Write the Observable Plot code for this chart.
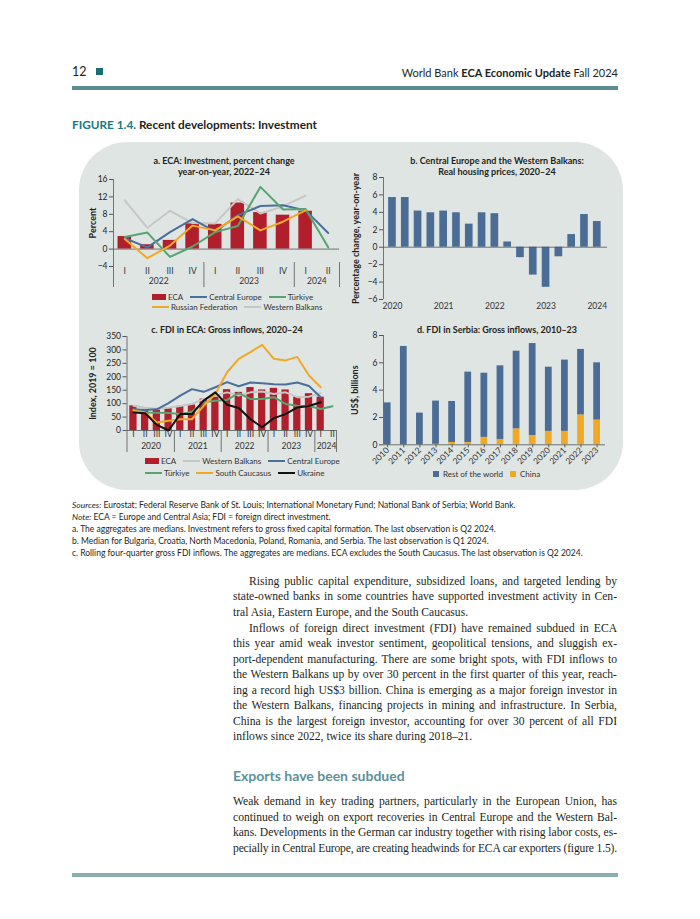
<!DOCTYPE html>
<html><head><meta charset="utf-8">
<script src="https://cdn.jsdelivr.net/npm/d3@7"></script>
<script src="https://cdn.jsdelivr.net/npm/@observablehq/plot@0.6"></script>
<style>
body{margin:0;width:700px;height:919px;position:relative;background:#fff;font-family:Lato,"Open Sans",sans-serif;color:#231f20;overflow:hidden}
.abs{position:absolute}
.ptitle{position:absolute;transform:translateX(-50%);text-align:center;font-weight:700;font-size:9px;line-height:10.5px;white-space:nowrap;color:#231f20}
.leg{position:absolute;display:flex;align-items:center;font-size:8px;color:#333;white-space:nowrap;height:10px}
.leg .it{display:flex;align-items:center;margin-right:7px}
.leg .sw{display:inline-block;margin-right:2px}
.line{position:absolute;white-space:nowrap;font-family:"Liberation Serif",serif;font-size:11.6px;height:15.5px;line-height:15.5px;color:#231f20}
.note{position:absolute;left:72px;white-space:nowrap;font-size:8.5px;line-height:12px;height:12px;color:#231f20}
</style></head><body>
<div id="root"></div>
<script>
// ---------- DATA ----------
// Panel a: ECA investment, percent change y/y, Q1 2022 - Q2 2024
const quartersA = ["I","II","III","IV","I","II","III","IV","I","II"];
const yearsA = ["2022","2023","2024"];
const ecaA = [2.9, 1.0, 2.0, 5.8, 5.7, 10.6, 8.4, 7.8, 8.7, null];
const centralEuropeA = [2.5, 0.4, 3.9, 6.9, 4.0, 7.8, 9.9, 10.1, 8.9, 3.7];
const turkiyeA = [2.8, 3.8, -1.8, 0.6, 3.9, 5.3, 14.3, 9.1, 9.2, 0.4];
const russiaA = [2.3, -2.1, 0.8, 5.4, 4.3, 7.5, 4.3, 6.3, 8.9, null];
const westernBalkansA = [11.2, 4.9, 8.8, 6.0, 5.9, 11.5, 8.2, 9.8, 12.3, null];
const ticksA = [-4, 0, 4, 8, 12, 16];

// Panel b: real housing prices, Q1 2020 - Q1 2024
const yearsB = ["2020","2021","2022","2023","2024"];
const housingB = [5.7, 5.7, 4.15, 3.95, 4.15, 3.95, 2.65, 3.95, 3.85, 0.6, -1.2, -3.2, -4.6, -1.1, 1.45, 3.75, 2.95];
const ticksB = [-6, -4, -2, 0, 2, 4, 6, 8];

// Panel c: FDI in ECA, index 2019 = 100, Q1 2020 - Q2 2024
const quartersC = ["I","II","III","IV","I","II","III","IV","I","II","III","IV","I","II","III","IV","I","II"];
const yearsC = ["2020","2021","2022","2023","2024"];
const ecaC = [92, 74, 76, 84, 90, 95, 117, 124, 152, 142, 160, 151, 157, 151, 124, 137, 124, null];
const westernBalkansC = [92, 85, 81, 85, 91, 99, 117, 130, 142, 130, 142, 145, 136, 142, 124, 126, 139, null];
const centralEuropeC = [79, 76, 79, 102, 130, 154, 144, 161, 180, 165, 179, 176, 172, 171, 179, 166, 124, null];
const turkiyeC = [77, 67, 66, 65, 61, 70, 105, 111, 114, 139, 117, 117, 124, 99, 92, 91, 80, 90];
const southCaucasusC = [74, 67, 30, 36, 42, 42, 92, 136, 217, 267, 292, 319, 267, 261, 274, 205, 161, null];
const ukraineC = [67, 64, 21, 0, 61, 61, 111, 142, 96, 84, 42, 12, 46, 61, 86, 91, 105, null];
const ticksC = [0, 50, 100, 150, 200, 250, 300, 350];

// Panel d: FDI in Serbia, US$ billions, 2010-23
const yearsD = [2010, 2011, 2012, 2013, 2014, 2015, 2016, 2017, 2018, 2019, 2020, 2021, 2022, 2023];
const chinaD = [0, 0, 0, 0.03, 0.17, 0.15, 0.54, 0.39, 1.15, 0.66, 0.98, 0.98, 2.17, 1.8];
const restD = [3.07, 7.2, 2.32, 3.17, 3.0, 5.17, 4.7, 5.39, 5.7, 6.75, 4.7, 5.22, 4.81, 4.2];
const ticksD = [0, 2, 4, 6, 8];

// ---------- STYLE ----------
const RED = "#b11f2d", BLUE = "#4a6f9b", GREEN = "#57a471", ORANGE = "#f0a925", GRAY = "#c6c7c7", BLACK = "#111111", BARBLUE = "#4b6d95", AXIS = "#555";
const root = document.getElementById("root");

function el(tag, cls, css, html) {
  const e = document.createElement(tag);
  if (cls) e.className = cls;
  if (css) e.style.cssText = css;
  if (html != null) e.innerHTML = html;
  root.appendChild(e);
  return e;
}
function place(svg, left, top) {
  svg.style.position = "absolute";
  svg.style.left = left + "px";
  svg.style.top = top + "px";
  root.appendChild(svg);
}
const baseStyle = {background: "transparent", fontFamily: "Lato, sans-serif", fontSize: "8.5px", color: "#231f20", overflow: "visible"};
const series = (arr) => arr.map((v, i) => ({i, v})).filter(d => d.v != null);
const yearCenters = (quarters, years) => {
  const starts = quarters.map((q, i) => q === "I" ? i : -1).filter(i => i >= 0);
  return years.map((y, k) => {
    const s = starts[k], e = (k + 1 < starts.length ? starts[k + 1] : quarters.length) - 1;
    return {y, c: (s + e) / 2};
  });
};
const separators = (quarters) => quarters.map((q, i) => q === "I" && i > 0 ? i - 0.5 : null).filter(v => v != null);
const yLabel = (txt, dx) => Plot.text([txt], {frameAnchor: "left", textAnchor: "middle", rotate: -90, dx, fontWeight: "bold", fontSize: 9, fill: "#231f20"});

// ---------- PAGE FURNITURE ----------
el("div", "abs", "left:72px;top:64px;font-size:12.5px;line-height:16px", "12");
el("div", "abs", "left:96px;top:68px;width:7px;height:7px;background:#1d6e73");
el("div", "abs", "right:82px;top:65px;font-size:11px;line-height:15px;white-space:nowrap", "World Bank <b>ECA Economic Update</b> Fall 2024");
el("div", "abs", "left:72px;top:86px;width:546px;height:3.5px;background:#5b8d92");
el("div", "abs", "left:72px;top:117px;font-size:11.8px;font-weight:700;line-height:15px;white-space:nowrap", '<span style="color:#17787f">FIGURE 1.4.</span> Recent developments: Investment');
el("div", "abs", "left:79px;top:142px;width:544px;height:348px;background:#dfe5e3;border-radius:48px");

// ---------- PANEL A ----------
el("div", "ptitle", "left:224px;top:156px", "a. ECA: Investment, percent change<br>year-on-year, 2022–24");
const centersA = yearCenters(quartersA, yearsA);
const sepA = separators(quartersA).concat([quartersA.length - 0.5]);
place(Plot.plot({
  width: 265, height: 125, marginLeft: 33, marginRight: 6, marginTop: 9, marginBottom: 29,
  style: baseStyle,
  x: {domain: [-0.5, quartersA.length - 0.5], axis: null},
  y: {domain: [-4, 16], axis: null},
  marks: [
    Plot.axisY({ticks: ticksA, tickSize: 4, tickPadding: 2, label: null, stroke: AXIS}),
    Plot.rectY(series(ecaA), {x1: d => d.i - 0.3, x2: d => d.i + 0.3, y1: 0, y2: "v", fill: RED}),
    Plot.ruleY([0], {stroke: AXIS, strokeWidth: 0.8}),
    Plot.ruleX([-0.5], {stroke: AXIS, strokeWidth: 0.8, insetBottom: -21}),
    Plot.ruleX(sepA, {y1: -4, y2: -4, insetTop: -4, insetBottom: -21, stroke: AXIS, strokeWidth: 0.8}),
    Plot.line(series(westernBalkansA), {x: "i", y: "v", stroke: GRAY, strokeWidth: 2}),
    Plot.line(series(centralEuropeA), {x: "i", y: "v", stroke: BLUE, strokeWidth: 2}),
    Plot.line(series(turkiyeA), {x: "i", y: "v", stroke: GREEN, strokeWidth: 2}),
    Plot.line(series(russiaA), {x: "i", y: "v", stroke: ORANGE, strokeWidth: 2}),
    Plot.text(quartersA, {x: (d, i) => i, text: d => d, frameAnchor: "bottom", dy: 7, fill: "#333"}),
    Plot.text(centersA, {x: "c", text: "y", frameAnchor: "bottom", dy: 17, fill: "#333"}),
    yLabel("Percent", -20)
  ]
}), 80, 170);

// ---------- PANEL B ----------
el("div", "ptitle", "left:497px;top:156px", "b. Central Europe and the Western Balkans:<br>Real housing prices, 2020–24");
const idxB = housingB.map((v, i) => ({i, v}));
const labB = yearsB.map((y, k) => ({y, i: k * 4}));
place(Plot.plot({
  width: 280, height: 145, marginLeft: 43, marginRight: 13, marginTop: 7, marginBottom: 16,
  style: baseStyle,
  x: {domain: [-0.7, housingB.length - 1 + 0.8], axis: null},
  y: {domain: [-6, 8], axis: null},
  marks: [
    Plot.axisY({ticks: ticksB, tickSize: 4, tickPadding: 2, label: null, stroke: AXIS}),
    Plot.rectY(idxB, {x1: d => d.i - 0.3, x2: d => d.i + 0.3, y1: 0, y2: "v", fill: BARBLUE}),
    Plot.ruleY([0], {stroke: AXIS, strokeWidth: 0.8}),
    Plot.ruleX([-0.7], {stroke: AXIS, strokeWidth: 0.8}),
    Plot.text(labB, {x: "i", text: "y", frameAnchor: "bottom", dy: 9, fill: "#333"}),
    yLabel("Percentage change, year-on-year", -27)
  ]
}), 340, 170);

// ---------- PANEL C ----------
el("div", "ptitle", "left:227px;top:325px", "c. FDI in ECA: Gross inflows, 2020–24");
const centersC = yearCenters(quartersC, yearsC);
const sepC = separators(quartersC).concat([quartersC.length - 0.65]);
place(Plot.plot({
  width: 262, height: 130, marginLeft: 46.5, marginRight: 6, marginTop: 11, marginBottom: 25,
  style: baseStyle,
  x: {domain: [-0.55, quartersC.length - 0.65], axis: null},
  y: {domain: [0, 350], axis: null},
  marks: [
    Plot.axisY({ticks: ticksC, tickSize: 4, tickPadding: 2, label: null, stroke: AXIS}),
    Plot.rectY(series(ecaC), {x1: d => d.i - 0.31, x2: d => d.i + 0.31, y1: 0, y2: "v", fill: RED}),
    Plot.ruleY([0], {stroke: AXIS, strokeWidth: 0.8}),
    Plot.ruleX([-0.55], {stroke: AXIS, strokeWidth: 0.8, insetBottom: -22}),
    Plot.ruleX(sepC, {y1: 0, y2: 0, insetBottom: -22, stroke: AXIS, strokeWidth: 0.8}),
    Plot.line(series(westernBalkansC), {x: "i", y: "v", stroke: GRAY, strokeWidth: 2}),
    Plot.line(series(centralEuropeC), {x: "i", y: "v", stroke: BLUE, strokeWidth: 2}),
    Plot.line(series(turkiyeC), {x: "i", y: "v", stroke: GREEN, strokeWidth: 2}),
    Plot.line(series(southCaucasusC), {x: "i", y: "v", stroke: ORANGE, strokeWidth: 2}),
    Plot.line(series(ukraineC), {x: "i", y: "v", stroke: BLACK, strokeWidth: 2}),
    Plot.text(quartersC, {x: (d, i) => i, text: d => d, frameAnchor: "bottom", dy: 6.5, fill: "#333"}),
    Plot.text(centersC, {x: "c", text: "y", frameAnchor: "bottom", dy: 18, fill: "#333"}),
    yLabel("Index, 2019 = 100", -33.5)
  ]
}), 80, 325);

// ---------- PANEL D ----------
el("div", "ptitle", "left:497px;top:325px", "d. FDI in Serbia: Gross inflows, 2010–23");
const chinaRows = yearsD.map((y, k) => ({y, lo: 0, hi: chinaD[k]}));
const restRows = yearsD.map((y, k) => ({y, lo: chinaD[k], hi: chinaD[k] + restD[k]}));
place(Plot.plot({
  width: 280, height: 145, marginLeft: 43, marginRight: 15, marginTop: 10, marginBottom: 25.7,
  style: baseStyle,
  x: {domain: [yearsD[0] - 0.26, yearsD[yearsD.length - 1] + 0.52], axis: null},
  y: {domain: [0, 8], axis: null},
  marks: [
    Plot.axisY({ticks: ticksD, tickSize: 4, tickPadding: 2, label: null, stroke: AXIS}),
    Plot.axisX({ticks: yearsD, tickFormat: d => String(d), tickRotate: -45, tickSize: 3, tickPadding: 1, label: null, stroke: AXIS, fill: "#333", fontSize: 8.5}),
    Plot.rectY(restRows, {x1: d => d.y - 0.21, x2: d => d.y + 0.21, y1: "lo", y2: "hi", fill: BARBLUE}),
    Plot.rectY(chinaRows, {x1: d => d.y - 0.21, x2: d => d.y + 0.21, y1: "lo", y2: "hi", fill: ORANGE}),
    Plot.ruleY([0], {stroke: AXIS, strokeWidth: 0.8}),
    Plot.ruleX([yearsD[0] - 0.26], {stroke: AXIS, strokeWidth: 0.8}),
    yLabel("US$, billions", -28)
  ]
}), 340, 325);

// ---------- LEGENDS ----------
function legend(items, left, top) {
  const d = el("div", "leg", `left:${left}px;top:${top}px`);
  for (const it of items) {
    const s = document.createElement("span"); s.className = "it";
    const sw = document.createElement("span"); sw.className = "sw";
    if (it.t === "bar") sw.style.cssText = `width:14px;height:6px;background:${it.c}`;
    else if (it.t === "sq") sw.style.cssText = `width:6px;height:6px;background:${it.c};margin-right:4px`;
    else sw.style.cssText = `width:17px;height:2px;background:${it.c}`;
    s.appendChild(sw);
    s.appendChild(document.createTextNode(it.l));
    d.appendChild(s);
  }
}
legend([{l: "ECA", c: RED, t: "bar"}, {l: "Central Europe", c: BLUE}, {l: "Türkiye", c: GREEN}], 152, 292);
legend([{l: "Russian Federation", c: ORANGE}, {l: "Western Balkans", c: GRAY}], 152, 302);
legend([{l: "ECA", c: RED, t: "bar"}, {l: "Western Balkans", c: GRAY}, {l: "Central Europe", c: BLUE}], 145, 456);
legend([{l: "Türkiye", c: GREEN}, {l: "South Caucasus", c: ORANGE}, {l: "Ukraine", c: BLACK}], 145, 468);
legend([{l: "Rest of the world", c: BARBLUE, t: "sq"}, {l: "China", c: ORANGE, t: "sq"}], 433, 469);

// ---------- NOTES ----------
const notes = [
  "<i>Sources:</i> Eurostat; Federal Reserve Bank of St. Louis; International Monetary Fund; National Bank of Serbia; World Bank.",
  "<i>Note:</i> ECA = Europe and Central Asia; FDI = foreign direct investment.",
  "a. The aggregates are medians. Investment refers to gross fixed capital formation. The last observation is Q2 2024.",
  "b. Median for Bulgaria, Croatia, North Macedonia, Poland, Romania, and Serbia. The last observation is Q1 2024.",
  "c. Rolling four-quarter gross FDI inflows. The aggregates are medians. ECA excludes the South Caucasus. The last observation is Q2 2024."
];
notes.forEach((t, k) => el("div", "note", `top:${498.5 + k * 12}px`, t));

// ---------- BODY TEXT ----------
const RIGHT = 617;
function textLine(txt, y, indent, justify) {
  const left = indent ? 249 : 233;
  const d = el("div", "line", `left:${left}px;top:${y - 7.75}px`);
  d.textContent = txt;
  if (justify) {
    const avail = RIGHT - left;
    const w = d.getBoundingClientRect().width;
    const spaces = (txt.match(/ /g) || []).length;
    const extra = avail - w;
    if (extra >= 0) {
      if (spaces) d.style.wordSpacing = (extra / spaces) + "px";
    } else {
      d.style.letterSpacing = (extra / txt.length) + "px";
    }
  }
}
const para1 = [
  "Rising public capital expenditure, subsidized loans, and targeted lending by",
  "state-owned banks in some countries have supported investment activity in Cen-",
  "tral Asia, Eastern Europe, and the South Caucasus."
];
const para2 = [
  "Inflows of foreign direct investment (FDI) have remained subdued in ECA",
  "this year amid weak investor sentiment, geopolitical tensions, and sluggish ex-",
  "port-dependent manufacturing. There are some bright spots, with FDI inflows to",
  "the Western Balkans up by over 30 percent in the first quarter of this year, reach-",
  "ing a record high US$3 billion. China is emerging as a major foreign investor in",
  "the Western Balkans, financing projects in mining and infrastructure. In Serbia,",
  "China is the largest foreign investor, accounting for over 30 percent of all FDI",
  "inflows since 2022, twice its share during 2018–21."
];
const para3 = [
  "Weak demand in key trading partners, particularly in the European Union, has",
  "continued to weigh on export recoveries in Central Europe and the Western Bal-",
  "kans. Developments in the German car industry together with rising labor costs, es-",
  "pecially in Central Europe, are creating headwinds for ECA car exporters (figure 1.5)."
];
document.fonts.ready.then(() => {
  para1.forEach((t, k) => textLine(t, 581.5 + k * 15.5, k === 0, k < para1.length - 1));
  para2.forEach((t, k) => textLine(t, 628.5 + k * 15.5, k === 0, k < para2.length - 1));
  para3.forEach((t, k) => textLine(t, 802 + k * 15.5, false, true));
});
el("div", "abs", "left:233px;top:767px;font-size:14px;font-weight:700;color:#5c9299;line-height:18px;white-space:nowrap", "Exports have been subdued");
el("div", "abs", "left:72px;top:873px;width:546px;height:3.5px;background:#8aadb0");
</script>
</body></html>
